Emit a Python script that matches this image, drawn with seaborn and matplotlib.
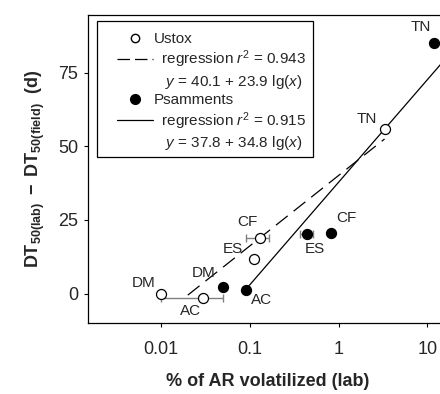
import numpy as np
import pandas as pd
import matplotlib
matplotlib.use("Agg")
import matplotlib.pyplot as plt
import matplotlib.ticker as mticker
from matplotlib.lines import Line2D
from matplotlib.patches import Rectangle
import seaborn as sns

sns.set_theme(style="ticks")
plt.rcParams['font.family'] = ['Liberation Sans', 'DejaVu Sans']
plt.rcParams.update({'mathtext.fontset': 'custom',
                     'mathtext.rm': 'Liberation Sans',
                     'mathtext.it': 'Liberation Sans:italic',
                     'mathtext.bf': 'Liberation Sans:bold'})

# data
sites = ["DM", "AC", "ES", "CF", "TN"]
ustox_x = [0.01, 0.03, 0.11, 0.13, 3.3]
ustox_y = [0.0, -1.6, 11.9, 18.8, 55.8]
ustox_xerr_lo = [0.0, 0.02, 0.0, 0.04, 0.0]
ustox_xerr_hi = [0.0, 0.02, 0.0, 0.035, 0.0]
psam_x = [0.05, 0.09, 0.44, 0.83, 12.0]
psam_y = [2.4, 1.3, 20.2, 20.5, 85.0]
psam_xerr_lo = [0.0, 0.0, 0.07, 0.0, 0.0]
psam_xerr_hi = [0.0, 0.0, 0.07, 0.0, 0.0]

# intercept, slope, r2, x range of the drawn line
ustox_fit = (40.1, 23.9, 0.943, 0.02, 3.3)
psam_fit = (37.8, 34.8, 0.915, 0.09, 20.0)

df = pd.DataFrame({
    "x": ustox_x + psam_x,
    "y": ustox_y + psam_y,
    "soil": ["Ustox"] * 5 + ["Psamments"] * 5,
})

fig = plt.figure(figsize=(4.4, 3.94), dpi=100)
ax = fig.add_axes([0.2, 0.18, 0.816, 0.782])

# error bars
ax.errorbar(ustox_x, ustox_y, xerr=[ustox_xerr_lo, ustox_xerr_hi], fmt='none',
            ecolor='#808080', elinewidth=1, capsize=3, zorder=1)
ax.errorbar(psam_x, psam_y, xerr=[psam_xerr_lo, psam_xerr_hi], fmt='none',
            ecolor='#808080', elinewidth=1, capsize=3, zorder=1)

dash = (0, (12, 6))
# regression lines
for (a, b, r2, x0, x1), ls in [(ustox_fit, dash), (psam_fit, '-')]:
    xs = np.logspace(np.log10(x0), np.log10(x1), 50)
    ax.plot(xs, a + b * np.log10(xs), color='black', lw=0.9, ls=ls, zorder=2)

sns.scatterplot(data=df[df.soil == "Ustox"], x="x", y="y", ax=ax, s=52,
                facecolor='white', edgecolor='black', linewidth=0.9, zorder=3, legend=False)
sns.scatterplot(data=df[df.soil == "Psamments"], x="x", y="y", ax=ax, s=52,
                color='black', edgecolor='black', linewidth=0.9, zorder=3, legend=False)

# point labels (offsets in points)
ustox_lab = [(-12.6, 8), (-9, -9), (-14.6, 7), (-9, 11.5), (-13, 7.5)]
psam_lab = [(-14, 9.7), (11, -7.7), (6, -10.5), (11, 11), (-10, 12)]
for xs, ys, labs in [(ustox_x, ustox_y, ustox_lab), (psam_x, psam_y, psam_lab)]:
    for s, x, y, (dx, dy) in zip(sites, xs, ys, labs):
        ax.annotate(s, (x, y), xytext=(dx, dy), textcoords='offset points',
                    ha='center', va='center', fontsize=11)

ax.set_xscale('log')
ax.set_xlim(0.0015, 16.7)
ax.set_ylim(-10, 94.6)
ax.xaxis.set_major_locator(mticker.FixedLocator([0.01, 0.1, 1, 10]))
ax.xaxis.set_major_formatter(mticker.FixedFormatter(['0.01', '0.1', '1', '10']))
ax.xaxis.set_minor_locator(mticker.NullLocator())
ax.set_yticks([0, 25, 50, 75])
ax.tick_params(labelsize=13, length=3, width=0.8, color='black')
ax.tick_params(axis='x', pad=10)
ax.tick_params(axis='y', pad=4)
for sp in ax.spines.values():
    sp.set_color('black')
    sp.set_linewidth(0.9)

ax.set_xlabel('% of AR volatilized (lab)', fontsize=13, fontweight='bold', labelpad=11)
ax.set_ylabel(r'$\mathbf{DT_{50(lab)}\ -\ DT_{50(field)}\ \ (d)}$', fontsize=13, labelpad=8)

# legend
blank = Line2D([], [], ls='none')
handles = [
    Line2D([], [], ls='none', marker='o', mfc='white', mec='black', ms=6),
    Line2D([], [], color='black', lw=0.9, ls=(0, (10, 4))),
    blank,
    Line2D([], [], ls='none', marker='o', mfc='black', mec='black', ms=7),
    Line2D([], [], color='black', lw=0.9),
    blank,
]
labels = [
    'Ustox',
    r'  regression $r^2$ = %.3f' % ustox_fit[2],
    r'   $y$ = %.1f + %.1f lg($x$)' % (ustox_fit[0], ustox_fit[1]),
    'Psamments',
    r'  regression $r^2$ = %.3f' % psam_fit[2],
    r'   $y$ = %.1f + %.1f lg($x$)' % (psam_fit[0], psam_fit[1]),
]
leg = ax.legend(handles, labels, loc='upper left', bbox_to_anchor=(0.08, 0.945),
                borderaxespad=0, borderpad=0, fontsize=11, frameon=False,
                handlelength=2.35, handletextpad=0.05, labelspacing=0.17)
ax.add_patch(Rectangle((0.025, 0.539), 0.602, 0.442, transform=ax.transAxes,
                       fill=True, facecolor='white', edgecolor='black', lw=0.9, zorder=4))
leg.set_zorder(5)

plt.savefig('out.png', dpi=100)
